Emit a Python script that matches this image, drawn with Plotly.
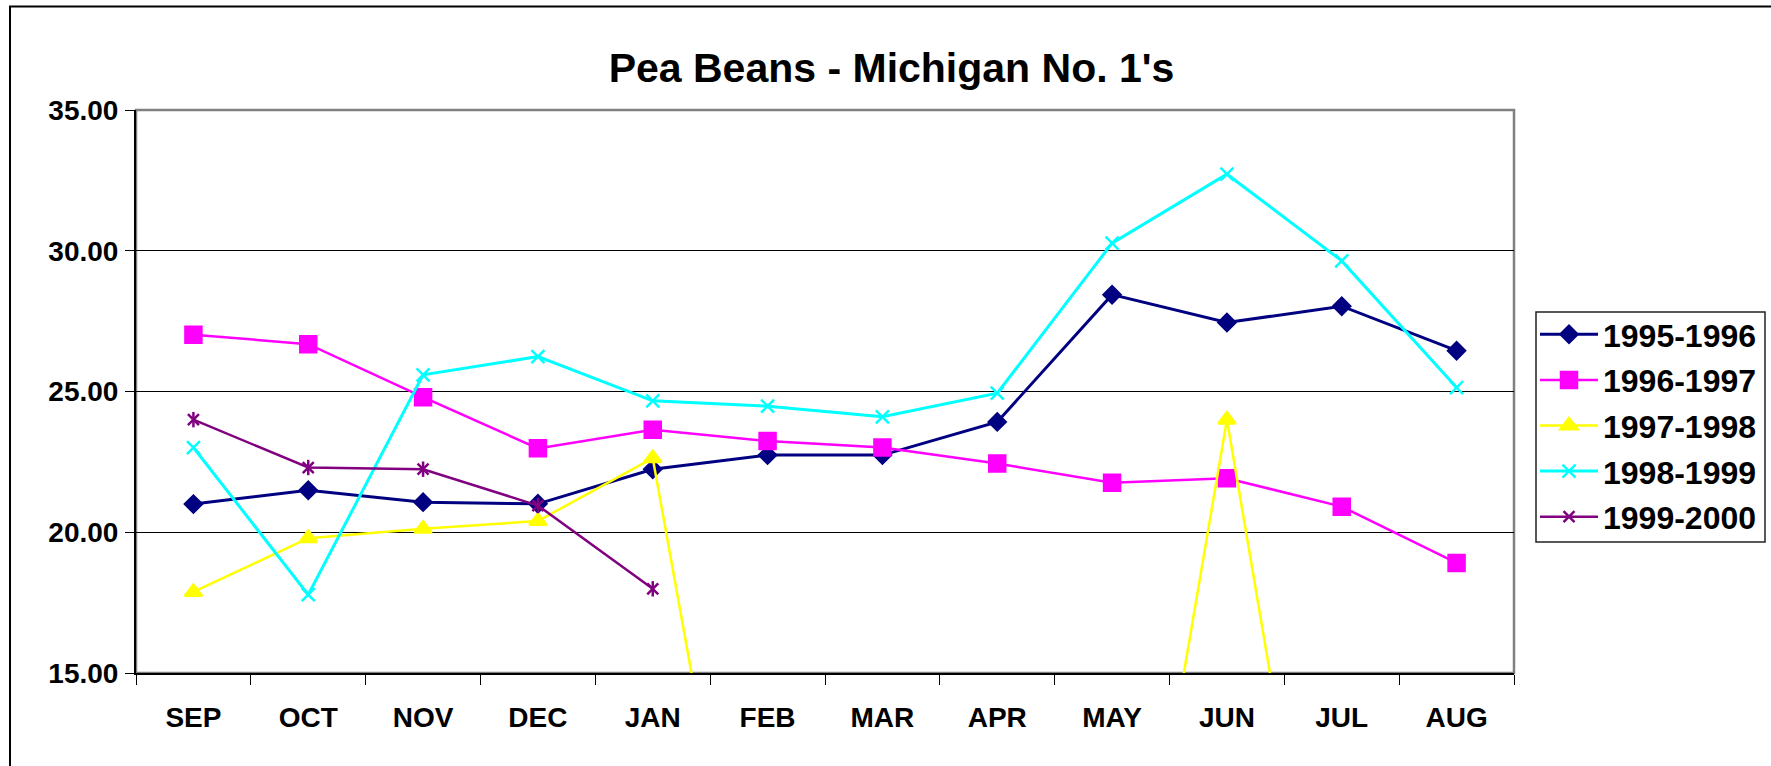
import plotly.graph_objects as go

months = ["SEP", "OCT", "NOV", "DEC", "JAN", "FEB", "MAR", "APR", "MAY", "JUN", "JUL", "AUG"]

s_1995_1996 = [21.00, 21.49, 21.07, 21.01, 22.24, 22.74, 22.74, 23.92, 28.44, 27.45, 28.03, 26.45]
s_1996_1997 = [27.02, 26.68, 24.80, 22.98, 23.64, 23.24, 23.01, 22.44, 21.76, 21.92, 20.91, 18.91]
s_1997_1998 = [17.88, 19.79, 20.12, 20.40, 22.63, 0, 0, 0, 0, 24.00, 0, 0]
s_1998_1999 = [23.01, 17.78, 25.59, 26.24, 24.67, 24.48, 24.10, 24.94, 30.27, 32.72, 29.64, 25.14]
s_1999_2000 = [24.00, 22.30, 22.24, 20.95, 17.99, None, None, None, None, None, None, None]

title_text = "Pea Beans - Michigan No. 1's"
FONT = "Liberation Sans, Arial, sans-serif"

series = [
    ("1995-1996", s_1995_1996, "#000080", "diamond", 13, 3),
    ("1996-1997", s_1996_1997, "#FF00FF", "square", 16, 2.5),
    ("1997-1998", s_1997_1998, "#FFFF00", "triangle-up", 15, 2.5),
    ("1998-1999", s_1998_1999, "#00FFFF", "x-thin-open", 13, 3),
    ("1999-2000", s_1999_2000, "#800080", "x-thin-open", 11, 2.5),
]

fig = go.Figure()
for name, vals, col, sym, sz, lw in series:
    fig.add_trace(go.Scatter(
        x=months, y=vals, name=name, mode="lines+markers",
        legendgroup=name,
        line=dict(color=col, width=lw),
        marker=dict(symbol=sym, size=sz, color=col, line=dict(color=col, width=2.5)),
        connectgaps=False,
    ))

# vertical stroke of the star marker for 1999-2000
fig.add_trace(go.Scatter(
    x=months, y=s_1999_2000, mode="markers", showlegend=False, legendgroup="1999-2000",
    marker=dict(symbol="line-ns-open", size=11, color="#800080", line=dict(color="#800080", width=2.5)),
))

L, R, T, B = 136, 257, 110, 93
W, H = 1771, 766
pw = W - L - R
ph = H - T - B

def px_x(v):
    return (v - L) / pw

def px_y(v):
    return 1 - (v - T) / ph

fig.update_layout(
    width=W, height=H,
    margin=dict(l=L, r=R, t=T, b=B, autoexpand=False),
    paper_bgcolor="white", plot_bgcolor="white",
    font=dict(family=FONT, color="black"),
    title=dict(text=title_text, xref="container", x=891.5 / W, xanchor="center",
               yref="container", y=1 - 68 / H, yanchor="middle",
               font=dict(family=FONT, size=41, color="black", weight="bold")),
    showlegend=True,
    legend=dict(x=px_x(1535), xanchor="left", y=px_y(307), yanchor="top",
                bgcolor="rgba(0,0,0,0)", borderwidth=0,
                font=dict(family=FONT, size=32, color="black", weight="bold"),
                tracegroupgap=1, itemwidth=58),
    xaxis=dict(type="category", categoryorder="array", categoryarray=months,
               range=[-0.5, 11.5], tickson="boundaries", ticks="outside", ticklen=10,
               tickcolor="black", tickwidth=1, showgrid=False, showline=True,
               linecolor="black", linewidth=2, zeroline=False, ticklabelstandoff=18,
               tickfont=dict(family=FONT, size=28, color="black", weight="bold")),
    yaxis=dict(range=[15, 35], dtick=5, tick0=15, tickformat=".2f", ticks="outside",
               ticklen=9, tickcolor="black", tickwidth=1, showgrid=True, gridcolor="black",
               gridwidth=1, showline=True, linecolor="black", linewidth=2, zeroline=False,
               ticklabelstandoff=1,
               tickfont=dict(family=FONT, size=28, color="black", weight="bold")),
    shapes=[
        dict(type="rect", xref="paper", yref="paper",
             x0=px_x(10), x1=1.3, y0=-0.5, y1=px_y(6.5),
             line=dict(color="black", width=2), layer="below"),
        dict(type="rect", xref="paper", yref="paper", x0=0, x1=1, y0=0, y1=1,
             line=dict(color="#808080", width=2.5), layer="below"),
        dict(type="rect", xref="paper", yref="paper",
             x0=px_x(1536), x1=px_x(1765), y0=px_y(542), y1=px_y(312),
             line=dict(color="#222222", width=1.5), fillcolor="white", layer="below"),
    ],
)

fig.write_html("out.html", post_script="document.body.style.margin='0px';",
               config={"displayModeBar": False})
